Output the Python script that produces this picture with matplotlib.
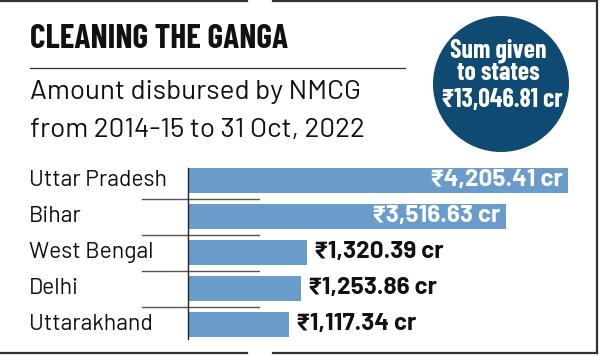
import matplotlib.pyplot as plt
import matplotlib.transforms as mtransforms
from matplotlib.patches import Ellipse
from matplotlib.lines import Line2D

states = ['Uttar Pradesh', 'Bihar', 'West Bengal', 'Delhi', 'Uttarakhand']
amounts = [4205.41, 3516.63, 1320.39, 1253.86, 1117.34]
total = 13046.81

cond = ['Barlow Condensed', 'Roboto Condensed', 'DejaVu Sans']
body = ['Barlow', 'Roboto', 'DejaVu Sans']

W, H = 600, 356
fig = plt.figure(figsize=(W / 100, H / 100), dpi=100)
fig.patch.set_facecolor('white')


def fx(px):
    return px / W


def fy(py):
    return 1 - py / H


# frame with small gaps top and bottom
frame = dict(color='#333333', lw=1.6, transform=fig.transFigure)
fig.add_artist(Line2D([fx(0), fx(247)], [fy(1), fy(1)], **frame))
fig.add_artist(Line2D([fx(273), fx(597)], [fy(1), fy(1)], **frame))
fig.add_artist(Line2D([fx(0), fx(247)], [fy(353), fy(353)], **frame))
fig.add_artist(Line2D([fx(273), fx(597)], [fy(353), fy(353)], **frame))
fig.add_artist(Line2D([fx(597), fx(597)], [fy(1), fy(353)], **frame))

# headline
fig.text(fx(30), fy(39), 'CLEANING THE GANGA', family=cond,
         weight='bold', fontsize=24, va='center', ha='left', color='#111111')
fig.add_artist(Line2D([fx(30), fx(405)], [fy(68), fy(68)], color='#333333',
                      lw=0.9, transform=fig.transFigure))
fig.text(fx(30), fy(92), 'Amount disbursed by NMCG', family=body,
         fontsize=20, va='center', ha='left', color='#111111')
fig.text(fx(30), fy(130), 'from 2014-15 to 31 Oct, 2022', family=body,
         fontsize=20, va='center', ha='left', color='#111111')

# circle with total
circle = Ellipse((fx(501), fy(84)), 2 * 68 / W, 2 * 68 / H, transform=fig.transFigure,
                 facecolor='#0e4a72', edgecolor='none')
fig.add_artist(circle)
fig.text(fx(498), fy(51), 'Sum given', family=cond, weight='bold',
         fontsize=18.5, color='white', ha='center', va='center')
fig.text(fx(498), fy(73), 'to states', family=cond, weight='bold',
         fontsize=18.5, color='white', ha='center', va='center')
fig.text(fx(502), fy(100), '\u20b9{:,.2f} cr'.format(total), family=cond,
         weight='bold', fontsize=18.5, color='white', ha='center', va='center')

# bars
ax = fig.add_axes([fx(188), (H - 342.5) / H, (W - 188) / W, 180 / H])
ypos = list(range(len(states)))
ax.barh(ypos, amounts, height=0.7, color='#6a9ccb')
ax.set_xlim(0, (W - 188) / 0.0904)
ax.set_ylim(len(states) - 0.5, -0.5)
ax.set_xticks([])
ax.set_yticks([])
for s in ['top', 'right', 'bottom']:
    ax.spines[s].set_visible(False)
ax.spines['left'].set_color('#222222')
ax.spines['left'].set_linewidth(1.0)
ax.spines['left'].set_bounds(len(states) - 0.6, -0.35)
ax.patch.set_alpha(0)

lab_tr = mtransforms.blended_transform_factory(fig.transFigure, ax.transData)
sep_tr = mtransforms.blended_transform_factory(ax.transAxes, ax.transData)
x0 = (142 - 188) / (W - 188)
x1 = (259 - 188) / (W - 188)
for i, (name, val) in enumerate(zip(states, amounts)):
    ax.text(fx(29), i, name, transform=lab_tr, family=body,
            fontsize=16.5, va='center', ha='left', color='#111111')
    label = '\u20b9{:,.2f} cr'.format(val)
    if val > 3000:
        ax.text(val - 60, i, label, family=body, weight='bold',
                fontsize=17.5, va='center', ha='right', color='white')
    else:
        ax.text(val + 90, i, label, family=body, weight='bold',
                fontsize=17.5, va='center', ha='left', color='#111111')
    if i > 0:
        ax.plot([x0, x1], [i - 0.5, i - 0.5], transform=sep_tr, color='#555555',
                lw=1.0, clip_on=False)

fig.savefig('out.png', dpi=100)
